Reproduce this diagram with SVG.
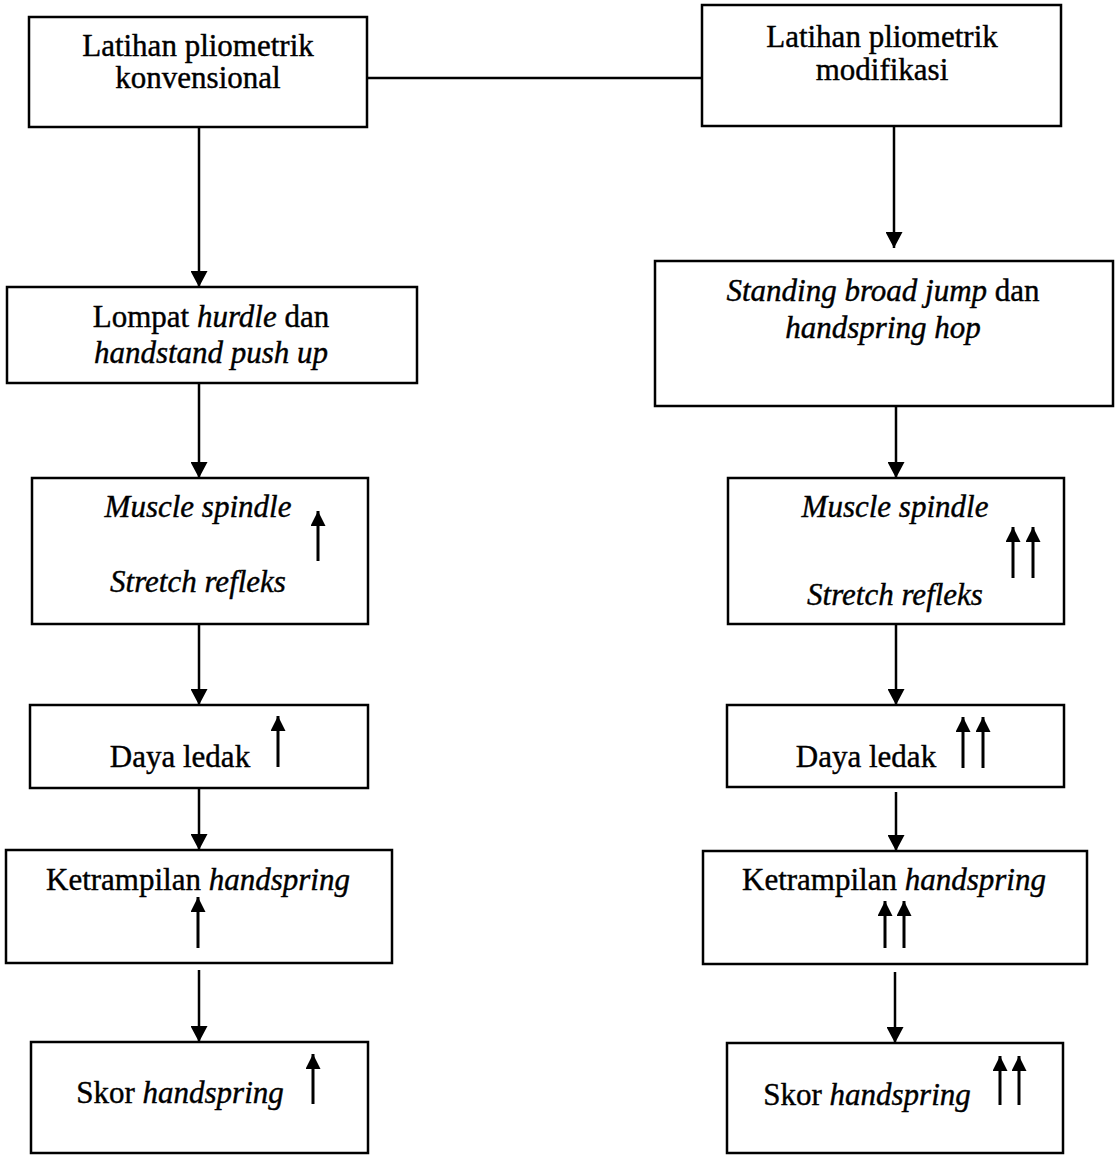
<svg xmlns="http://www.w3.org/2000/svg" width="1116" height="1155" viewBox="0 0 1116 1155">
<style>
.box{fill:#fff;stroke:#000;stroke-width:2.5}
.t{font-family:"Liberation Serif","Times New Roman",serif;font-size:31px;fill:#000;stroke:#000;stroke-width:0.4;text-anchor:middle}
.i{font-style:italic}
.c{stroke:#000;stroke-width:2.5;fill:none}
.up{stroke:#000;stroke-width:3;fill:none}
</style>
<defs>
<marker id="ah" markerUnits="userSpaceOnUse" markerWidth="16" markerHeight="17" refX="16" refY="8.5" orient="auto" viewBox="0 0 16 17">
<path d="M0,0 L16,8.5 L0,17 z" fill="#000"/>
</marker>
<marker id="uh" markerUnits="userSpaceOnUse" markerWidth="15" markerHeight="15" refX="15" refY="7.5" orient="auto" viewBox="0 0 15 15">
<path d="M0,0 L15,7.5 L0,15 z" fill="#000"/>
</marker>
</defs>
<rect width="1116" height="1155" fill="#fff"/>

<g id="connectors">
<line class="c" x1="367" y1="78" x2="702" y2="78"/>
<line class="c" x1="199" y1="127" x2="199" y2="287" marker-end="url(#ah)"/>
<line class="c" x1="894" y1="126" x2="894" y2="248" marker-end="url(#ah)"/>
<line class="c" x1="199" y1="383" x2="199" y2="478" marker-end="url(#ah)"/>
<line class="c" x1="896" y1="406" x2="896" y2="478" marker-end="url(#ah)"/>
<line class="c" x1="199" y1="624" x2="199" y2="705" marker-end="url(#ah)"/>
<line class="c" x1="896" y1="624" x2="896" y2="705" marker-end="url(#ah)"/>
<line class="c" x1="199" y1="788" x2="199" y2="850" marker-end="url(#ah)"/>
<line class="c" x1="896" y1="792" x2="896" y2="851" marker-end="url(#ah)"/>
<line class="c" x1="199" y1="970" x2="199" y2="1042" marker-end="url(#ah)"/>
<line class="c" x1="895" y1="972" x2="895" y2="1043" marker-end="url(#ah)"/>
</g>

<g id="n1">
<rect class="box" x="29" y="17" width="338" height="110"/>
<text class="t" x="198" y="56">Latihan pliometrik</text>
<text class="t" x="198" y="88">konvensional</text>
</g>
<g id="n2">
<rect class="box" x="702" y="5" width="359" height="121"/>
<text class="t" x="882" y="47">Latihan pliometrik</text>
<text class="t" x="882" y="80">modifikasi</text>
</g>
<g id="n3">
<rect class="box" x="7" y="287" width="410" height="96"/>
<text class="t" x="211" y="327">Lompat <tspan class="i">hurdle</tspan> dan</text>
<text class="t i" x="211" y="363">handstand push up</text>
</g>
<g id="n4">
<rect class="box" x="655" y="261" width="458" height="145"/>
<text class="t" x="883" y="301"><tspan class="i">Standing broad jump</tspan> dan</text>
<text class="t i" x="883" y="338">handspring hop</text>
</g>
<g id="n5">
<rect class="box" x="32" y="478" width="336" height="146"/>
<text class="t i" x="198" y="517">Muscle spindle</text>
<text class="t i" x="198" y="592">Stretch refleks</text>
<line class="up" x1="318" y1="561" x2="318" y2="511" marker-end="url(#uh)"/>
</g>
<g id="n6">
<rect class="box" x="728" y="478" width="336" height="146"/>
<text class="t i" x="895" y="517">Muscle spindle</text>
<text class="t i" x="895" y="605">Stretch refleks</text>
<line class="up" x1="1013" y1="578" x2="1013" y2="527" marker-end="url(#uh)"/>
<line class="up" x1="1033" y1="578" x2="1033" y2="527" marker-end="url(#uh)"/>
</g>
<g id="n7">
<rect class="box" x="30" y="705" width="338" height="83"/>
<text class="t" x="180" y="767">Daya ledak</text>
<line class="up" x1="278" y1="767" x2="278" y2="716" marker-end="url(#uh)"/>
</g>
<g id="n8">
<rect class="box" x="727" y="705" width="337" height="82"/>
<text class="t" x="866" y="767">Daya ledak</text>
<line class="up" x1="963" y1="768" x2="963" y2="717" marker-end="url(#uh)"/>
<line class="up" x1="983" y1="768" x2="983" y2="717" marker-end="url(#uh)"/>
</g>
<g id="n9">
<rect class="box" x="6" y="850" width="386" height="113"/>
<text class="t" x="198" y="890">Ketrampilan <tspan class="i">handspring</tspan></text>
<line class="up" x1="198" y1="948" x2="198" y2="897" marker-end="url(#uh)"/>
</g>
<g id="n10">
<rect class="box" x="703" y="851" width="384" height="113"/>
<text class="t" x="894" y="890">Ketrampilan <tspan class="i">handspring</tspan></text>
<line class="up" x1="885" y1="948" x2="885" y2="901" marker-end="url(#uh)"/>
<line class="up" x1="904" y1="948" x2="904" y2="901" marker-end="url(#uh)"/>
</g>
<g id="n11">
<rect class="box" x="31" y="1042" width="337" height="111"/>
<text class="t" x="180" y="1103">Skor <tspan class="i">handspring</tspan></text>
<line class="up" x1="313" y1="1104" x2="313" y2="1054" marker-end="url(#uh)"/>
</g>
<g id="n12">
<rect class="box" x="727" y="1043" width="336" height="110"/>
<text class="t" x="867" y="1105">Skor <tspan class="i">handspring</tspan></text>
<line class="up" x1="1000" y1="1105" x2="1000" y2="1056" marker-end="url(#uh)"/>
<line class="up" x1="1019" y1="1105" x2="1019" y2="1056" marker-end="url(#uh)"/>
</g>
</svg>
